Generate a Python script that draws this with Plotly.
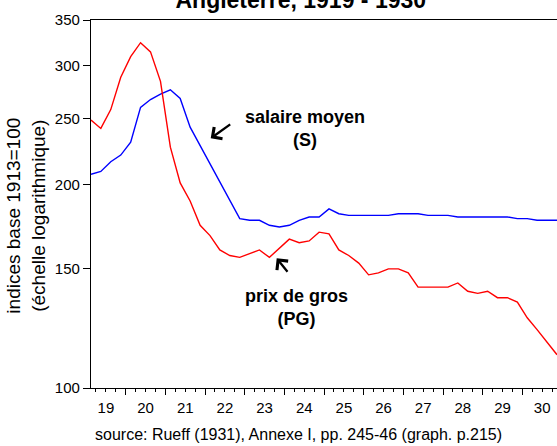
"""Angleterre 1919-1930: salaire moyen vs prix de gros (indices, échelle log)."""

import pandas as pd
import plotly.graph_objects as go

# quarterly observations, 1919Q1 .. 1930Q4
quarters = pd.period_range("1919Q1", "1930Q4", freq="Q")

salaire_moyen = [
    207, 209, 216, 221, 231, 260, 267, 272, 276, 268, 243, 228,
    215, 202, 189, 178, 177, 177, 174, 173, 174, 177, 179, 179,
    184, 181, 180, 180, 180, 180, 180, 181, 181, 181, 180, 180,
    180, 179, 179, 179, 179, 179, 179, 178, 178, 177, 177, 177,
]
prix_de_gros = [
    249, 242, 258, 288, 309, 324, 314, 284, 227, 201, 189, 174,
    168, 160, 157, 156, 158, 160, 156, 161, 166, 164, 165, 170,
    169, 160, 157, 153, 147, 148, 150, 150, 148, 141, 141, 141,
    141, 143, 139, 138, 139, 136, 136, 134, 127, 122, 117, 112,
]
y_ticks = [100, 150, 200, 250, 300, 350]

FONT = "Arial, Liberation Sans, sans-serif"

# place each quarter at its midpoint, like the original EViews graph
x_mid = [p.start_time + (p.end_time - p.start_time) / 2 for p in quarters]

fig = go.Figure()
fig.add_trace(go.Scatter(x=x_mid, y=salaire_moyen, mode="lines", name="salaire moyen (S)",
                         line=dict(color="#0000ff", width=1.4)))
fig.add_trace(go.Scatter(x=x_mid, y=prix_de_gros, mode="lines", name="prix de gros (PG)",
                         line=dict(color="#ff0000", width=1.4)))

fig.update_layout(
    width=557,
    height=446,
    margin=dict(l=91, r=0, t=20, b=58),
    plot_bgcolor="white",
    paper_bgcolor="white",
    showlegend=False,
    font=dict(family=FONT, size=15, color="black"),
    title=dict(text="<b>Angleterre, 1919 - 1930</b>", x=0.54, xanchor="center",
               y=1.0, yref="container", yanchor="middle", font=dict(size=23)),
)

fig.update_xaxes(
    type="date",
    automargin=False,
    range=[x_mid[0], x_mid[-1]],
    tick0="1919-01-01",
    dtick="M12",
    tickformat="%y",
    ticklabelmode="period",
    ticks="outside",
    ticklen=6,
    tickcolor="black",
    showline=True,
    linecolor="black",
    linewidth=1.3,
    mirror=True,
    showgrid=False,
    zeroline=False,
    minor=dict(dtick="M3", tick0="1919-01-01", ticks="outside", ticklen=3, tickcolor="black"),
)
fig.update_yaxes(
    type="log",
    automargin=False,
    range=[2, 2.5441],
    tickvals=y_ticks,
    ticks="outside",
    ticklen=7,
    tickcolor="black",
    showline=True,
    linecolor="black",
    linewidth=1.3,
    showgrid=False,
    zeroline=False,
)

annots = [
    dict(text="<b>salaire moyen<br>(S)</b>", x=0.459, y=0.7054, font=dict(size=18)),
    dict(text="<b>prix de gros<br>(PG)</b>", x=0.441, y=0.2177, font=dict(size=18)),
    dict(text="indices base 1913=100<br>(échelle logarithmique)", x=-0.1384, y=0.467,
         textangle=-90, font=dict(size=19)),
]
for a in annots:
    fig.add_annotation(xref="paper", yref="paper", showarrow=False,
                       xanchor="center", yanchor="middle", align="center", **a)

fig.add_annotation(text="source: Rueff (1931), Annexe I, pp. 245-46 (graph. p.215)",
                   xref="paper", yref="paper", x=0.0043, y=-0.1277,
                   xanchor="left", yanchor="middle", showarrow=False, font=dict(size=16))

# arrows pointing at the two curves
for hx, hy, ax, ay in [(0.2569, 0.6785, 21, -15), (0.3985, 0.3524, 12, 15)]:
    fig.add_annotation(text="", xref="paper", yref="paper", x=hx, y=hy, ax=ax, ay=ay,
                       showarrow=True, arrowhead=4, arrowsize=1.2, arrowwidth=2.3,
                       arrowcolor="black", standoff=0)

# the page body has a default 8px margin; drop it so the figure fills the window
fig.write_html("out.html", config={"displayModeBar": False},
               post_script="document.body.style.margin='0';")
